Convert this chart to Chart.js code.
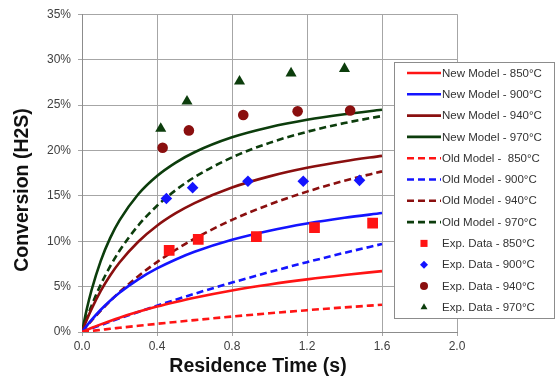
<!DOCTYPE html>
<html><head><meta charset="utf-8">
<script src="https://cdn.jsdelivr.net/npm/chart.js@4/dist/chart.umd.min.js"></script>
<style>html,body{margin:0;padding:0;background:#fff}#wrap{width:557px;height:378px;position:relative}</style>
</head><body><div id="wrap"><canvas id="c" width="557" height="378"></canvas></div>
<script>
// ---- data (percent values) ----
const timePoints   = [0, 0.025, 0.05, 0.1, 0.15, 0.2, 0.3, 0.4, 0.5, 0.6, 0.8, 1.0, 1.2, 1.4, 1.6];
const newModel850  = [0, 0.22, 0.44, 0.84, 1.22, 1.58, 2.22, 2.80, 3.31, 3.78, 4.58, 5.24, 5.80, 6.28, 6.70];
const newModel900  = [0, 0.68, 1.31, 2.45, 3.44, 4.32, 5.80, 7.00, 7.99, 8.83, 10.15, 11.15, 11.94, 12.58, 13.10];
const newModel940  = [0, 1.31, 2.49, 4.52, 6.22, 7.65, 9.94, 11.70, 13.08, 14.20, 15.91, 17.14, 18.08, 18.81, 19.40];
const newModel970  = [0, 2.47, 4.54, 7.84, 10.34, 12.29, 15.17, 17.18, 18.66, 19.80, 21.44, 22.55, 23.37, 23.98, 24.47];
const oldModel850  = [0, 0.06, 0.12, 0.23, 0.35, 0.46, 0.68, 0.90, 1.11, 1.31, 1.70, 2.06, 2.40, 2.71, 3.00];
const oldModel900  = [0, 0.19, 0.38, 0.76, 1.13, 1.50, 2.21, 2.90, 3.56, 4.21, 5.44, 6.60, 7.69, 8.72, 9.69];
const oldModel940  = [0, 0.63, 1.23, 2.36, 3.41, 4.39, 6.15, 7.70, 9.06, 10.28, 12.35, 14.04, 15.46, 16.66, 17.69];
const oldModel970  = [0, 1.49, 2.85, 5.22, 7.22, 8.94, 11.73, 13.90, 15.63, 17.05, 19.23, 20.83, 22.05, 23.01, 23.79];
const exp850Time   = [0.465, 0.62, 0.93, 1.24, 1.55];
const exp850Value  = [9.0, 10.2, 10.5, 11.5, 12.0];
const exp900Time   = [0.45, 0.59, 0.885, 1.18, 1.48];
const exp900Value  = [14.7, 15.9, 16.6, 16.6, 16.7];
const exp940Time   = [0.43, 0.57, 0.86, 1.15, 1.43];
const exp940Value  = [20.3, 22.2, 23.9, 24.3, 24.4];
const exp970Time   = [0.42, 0.56, 0.84, 1.115, 1.40];
const exp970Value  = [22.4, 25.4, 27.6, 28.5, 29.0];
const xTickValues  = [0, 0.4, 0.8, 1.2, 1.6, 2.0];
const yTickValues  = [0, 5, 10, 15, 20, 25, 30, 35];
const seriesLabels = ['New Model - 850°C','New Model - 900°C','New Model - 940°C','New Model - 970°C',
                      'Old Model -  850°C','Old Model - 900°C','Old Model - 940°C','Old Model - 970°C',
                      'Exp. Data - 850°C','Exp. Data - 900°C','Exp. Data - 940°C','Exp. Data - 970°C'];
const xAxisTitle = 'Residence Time (s)';
const yAxisTitle = 'Conversion (H2S)';

// ---- styles ----
const RED = '#ff1414', BLUE = '#1414ff', MAROON = '#8a0f0f', GREEN = '#0c3d0c';
const FONT = '"Liberation Sans", Arial, sans-serif';

function pts(xs, ys){ return xs.map((x,i)=>({x:x, y:ys[i]})); }
function lineDs(label, ys, color, dashed){
  return {label, data: pts(timePoints, ys), showLine:true, borderColor:color, backgroundColor:color,
    borderWidth:2.6, borderDash: dashed ? [7,4] : [], pointRadius:0, pointHoverRadius:0,
    tension:0.4, cubicInterpolationMode:'monotone', order:2, fill:false};
}
function markDs(label, xs, ys, color, style, r){
  return {label, data: pts(xs, ys), showLine:false, borderColor:color, backgroundColor:color,
    pointStyle:style, pointRadius:r, pointHoverRadius:r, borderWidth:0, order:1};
}

const datasets = [
  lineDs(seriesLabels[0], newModel850, RED, false),
  lineDs(seriesLabels[1], newModel900, BLUE, false),
  lineDs(seriesLabels[2], newModel940, MAROON, false),
  lineDs(seriesLabels[3], newModel970, GREEN, false),
  lineDs(seriesLabels[4], oldModel850, RED, true),
  lineDs(seriesLabels[5], oldModel900, BLUE, true),
  lineDs(seriesLabels[6], oldModel940, MAROON, true),
  lineDs(seriesLabels[7], oldModel970, GREEN, true),
  markDs(seriesLabels[8], exp850Time, exp850Value, RED, 'rect', 7.6),
  markDs(seriesLabels[9], exp900Time, exp900Value, BLUE, 'rectRot', 5.8),
  markDs(seriesLabels[10], exp940Time, exp940Value, MAROON, 'circle', 5.3),
  markDs(seriesLabels[11], exp970Time, exp970Value, GREEN, 'triangle', 6.4),
];

const axisTitles = {
  id:'axisTitles',
  afterDraw(chart){
    const ctx = chart.ctx;
    ctx.save();
    ctx.fillStyle = '#111';
    ctx.font = 'bold 19.5px ' + FONT;
    ctx.textAlign = 'center';
    ctx.textBaseline = 'middle';
    ctx.fillText(xAxisTitle, 258, 367);
    ctx.translate(23, 190);
    ctx.rotate(-Math.PI/2);
    ctx.fillText(yAxisTitle, 0, 0);
    ctx.restore();
  }
};

const boxLegend = {
  id:'boxLegend',
  afterDraw(chart){
    const ctx = chart.ctx;
    const bx = 394, by = 62, bw = 160, bh = 256;
    ctx.save();
    ctx.fillStyle = '#fff';
    ctx.fillRect(bx, by, bw, bh);
    ctx.strokeStyle = '#8c8c8c';
    ctx.lineWidth = 1;
    ctx.strokeRect(bx+0.5, by+0.5, bw, bh);
    ctx.font = '11.5px ' + FONT;
    ctx.textBaseline = 'middle';
    ctx.textAlign = 'left';
    chart.data.datasets.forEach((ds, i) => {
      const cy = by + 11 + i * 21.3;
      if (ds.showLine) {
        ctx.save();
        ctx.strokeStyle = ds.borderColor;
        ctx.lineWidth = 2.6;
        ctx.setLineDash(ds.borderDash || []);
        ctx.beginPath(); ctx.moveTo(407, cy); ctx.lineTo(441, cy); ctx.stroke();
        ctx.restore();
      } else {
        ctx.fillStyle = ds.backgroundColor;
        Chart.helpers.drawPoint(ctx, {pointStyle: ds.pointStyle, radius: ds.pointStyle==='rect'?5:4, rotation:0, borderWidth:0}, 424, cy);
      }
      ctx.fillStyle = '#333';
      ctx.fillText(ds.label, 442, cy + 0.5);
    });
    ctx.restore();
  }
};

new Chart(document.getElementById('c'), {
  type:'scatter',
  data:{datasets},
  plugins:[boxLegend, axisTitles],
  options:{
    responsive:false, animation:false, devicePixelRatio:1,
    layout:{padding:{left:0, top:14, right:100, bottom:0}},
    plugins:{legend:{display:false}, tooltip:{enabled:false}},
    scales:{
      x:{type:'linear', min:0, max:2.0,
        afterBuildTicks(s){ s.ticks = xTickValues.map(v=>({value:v})); },
        afterFit(s){ s.height = 46; },
        grid:{color:'#a6a6a6', lineWidth:1, tickLength:4, drawTicks:true},
        border:{color:'#8c8c8c'},
        ticks:{padding:3, color:'#404040', font:{family:FONT, size:12}, callback:v=>Number(v).toFixed(1), maxRotation:0},
        title:{display:false}
      },
      y:{type:'linear', min:0, max:35,
        afterBuildTicks(s){ s.ticks = yTickValues.map(v=>({value:v})); },
        afterFit(s){ s.width = 82; },
        grid:{color:'#a6a6a6', lineWidth:1, tickLength:4, drawTicks:true},
        border:{color:'#8c8c8c'},
        ticks:{padding:7, color:'#404040', font:{family:FONT, size:12}, callback:v=>v+'%'},
        title:{display:false}
      }
    }
  }
});
</script></body></html>
